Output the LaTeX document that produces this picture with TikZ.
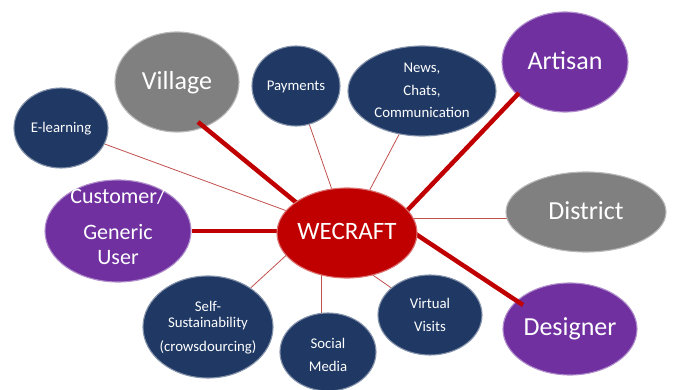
\documentclass[tikz,border=0pt]{standalone}
\usepackage{fontspec}
\setmainfont{Carlito}
\usetikzlibrary{shapes.geometric,calc}
\definecolor{navy}{HTML}{1F3864}
\definecolor{plum}{HTML}{7030A0}
\definecolor{slate}{HTML}{808080}
\definecolor{hubred}{HTML}{C00000}
\definecolor{linkred}{HTML}{C0504D}
\pgfdeclarelayer{links}
\pgfdeclarelayer{spokes}
\pgfdeclarelayer{front}
\pgfsetlayers{links,main,spokes,front}
\tikzset{
  bubble/.style={ellipse, inner sep=0pt, fill=#1, draw=#1!55!white, line width=1.1pt},
  lbl/.style={text=white, align=center, anchor=base, inner sep=0pt},
  bigtxt/.style={font=\fontsize{26}{30}\selectfont},
  smalltxt/.style={font=\fontsize{14.8}{23}\selectfont},
  thinlink/.style={draw=linkred, line width=0.8pt},
  spoke/.style={draw=hubred, line width=4.5pt},
}
\begin{document}
\begin{tikzpicture}[x=1pt,y=-1pt]
\useasboundingbox (0,0) rectangle (673,390);

% central hub
\begin{pgfonlayer}{front}
  \node[bubble=hubred, minimum width=140pt, minimum height=90pt] (hub) at (347,233) {};
  \node[lbl, font=\fontsize{25}{28}\selectfont] (hub-t) at (347,240) {WECRAFT};
\end{pgfonlayer}

% main actors (labels are anchored at the baseline of their last line)
\node[bubble=slate, minimum width=124pt, minimum height=100pt] (village) at (177,82) {};
\node[lbl, bigtxt] (village-t) at (177,90) {Village};
\node[bubble=plum, minimum width=126pt, minimum height=100pt] (artisan) at (565,62) {};
\node[lbl, bigtxt] (artisan-t) at (565,70) {Artisan};
\node[bubble=slate, minimum width=160pt, minimum height=80pt] (district) at (586,212) {};
\node[lbl, bigtxt] (district-t) at (586,220) {District};
\node[bubble=plum, minimum width=134pt, minimum height=92pt] (designer) at (570,329) {};
\node[lbl, bigtxt] (designer-t) at (570,336) {Designer};
\node[bubble=plum, minimum width=146pt, minimum height=102pt] (customer) at (118,231) {};
\node[lbl, font=\fontsize{22}{25}\selectfont] (customer-t) at (118,265) {Customer/\\[11pt]Generic\\User};

% services
\node[bubble=navy, minimum width=88pt, minimum height=80pt] (payments) at (296,86) {};
\node[lbl, smalltxt] (payments-t) at (296,91) {Payments};
\node[bubble=navy, minimum width=94pt, minimum height=80pt] (elearn) at (61,128) {};
\node[lbl, smalltxt] (elearn-t) at (61,133) {E-learning};
\node[bubble=navy, minimum width=148pt, minimum height=90pt] (news) at (422,91) {};
\node[lbl, font=\fontsize{14.8}{22.5}\selectfont] (news-t) at (422,118) {News,\\Chats,\\Communication};
\node[bubble=navy, minimum width=104pt, minimum height=80pt] (virtual) at (430,315) {};
\node[lbl, smalltxt] (virtual-t) at (430,332) {Virtual\\Visits};
\node[bubble=navy, minimum width=96pt, minimum height=78pt] (social) at (328,352) {};
\node[lbl, smalltxt] (social-t) at (328,372) {Social\\Media};
\node[bubble=navy, minimum width=130pt, minimum height=102pt] (self) at (208,327) {};
\node[lbl, font=\fontsize{14.8}{16}\selectfont] (self-t) at (208,352) {Self-\\Sustainability\\[8pt](crowsdourcing)};

% thin links to the services
\begin{pgfonlayer}{links}
  \draw[thinlink] (elearn) -- (hub);
  \draw[thinlink] (payments) -- (hub);
  \draw[thinlink] (news) -- (hub);
  \coordinate (dlink) at ($(district)+(0,6)$);
  \draw[thinlink] (dlink) -- (dlink -| hub);
  \draw[thinlink] (virtual) -- ($(hub)+(0,24)$);
  \coordinate (slink) at ($(social)+(-7,0)$);
  \draw[thinlink] (slink) -- (slink |- hub);
  \draw[thinlink] (self) -- ($(hub)+(-55,17)$);
\end{pgfonlayer}

% thick spokes to the actors
\begin{pgfonlayer}{spokes}
  \draw[spoke] ($(village)+(21,40)$) -- ($(hub)+(-27,-11)$);
  \draw[spoke] ($(artisan)+(-46,31)$) -- ($(hub)+(33,6)$);
  \draw[spoke] ($(designer)+(-47,-24)$) -- ($(hub)+(43,-16)$);
  \draw[spoke] (customer.east) -- (customer.east -| hub);
\end{pgfonlayer}
\end{tikzpicture}
\end{document}
